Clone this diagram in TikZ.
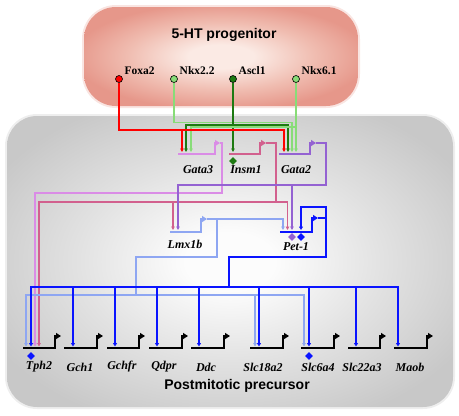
\documentclass[tikz,border=0pt]{standalone}
\usepackage{fontspec}
\setmainfont{Liberation Serif}
\newfontfamily\titlefont{Liberation Sans}
\usetikzlibrary{arrows.meta,shapes.geometric}
\definecolor{cfoxa}{HTML}{FF0000}
\definecolor{cnkx}{HTML}{88DC78}
\definecolor{cascl}{HTML}{1E7A12}
\definecolor{cgatab}{HTML}{DA8CE6}
\definecolor{cinsm}{HTML}{D2608E}
\definecolor{cgatac}{HTML}{9462D2}
\definecolor{clmx}{HTML}{8EA6F2}
\definecolor{cpet}{HTML}{0A14FF}
\definecolor{cpinkin}{HTML}{FBEAE4}
\definecolor{cpinkmid}{HTML}{F0BDB1}
\definecolor{cpinkout}{HTML}{E6978A}
\definecolor{cgrayin}{HTML}{FCFCFC}
\definecolor{cgraymid}{HTML}{E2E2E2}
\definecolor{cgrayout}{HTML}{C8C8C8}
\pgfdeclareradialshading{pinkglow}{\pgfpoint{0bp}{0bp}}{color(0bp)=(cpinkin); color(6bp)=(cpinkin); color(17bp)=(cpinkmid); color(27bp)=(cpinkout); color(50bp)=(cpinkout)}
\pgfdeclareradialshading{grayglow}{\pgfpoint{0bp}{0bp}}{color(0bp)=(cgrayin); color(5bp)=(cgrayin); color(17bp)=(cgraymid); color(30bp)=(cgrayout); color(50bp)=(cgrayout)}

\begin{document}
\begin{tikzpicture}[x=1pt,y=-1pt,
  tf/.style={circle,draw=black,line width=0.6pt,inner sep=0pt,minimum size=7pt},
  tflab/.style={font=\bfseries\fontsize{11.5}{13}\selectfont,inner sep=0pt,anchor=base west},
  gname/.style={font=\bfseries\itshape\fontsize{12}{13}\selectfont,inner sep=0pt},
  title/.style={font=\titlefont\bfseries\fontsize{14}{16}\selectfont,inner sep=0pt},
  gene/.style={line width=2.6pt,-{Triangle[length=5pt,width=6pt]}},
  tgene/.style={line width=2pt,-{Triangle[length=5pt,width=6pt]}},
  reg/.style={line width=1.3pt,-{Triangle[length=3.5pt,width=3.5pt]}},
  breg/.style={line width=2pt,-{Triangle[length=3.5pt,width=4pt]}},
  dia/.style={diamond,inner sep=0pt,minimum size=8pt}]
\useasboundingbox (0,0) rectangle (459,416);

\fill[cpinkout,opacity=0.25,rounded corners=34pt] (82,5) rectangle (360,108);
\shade[shading=pinkglow,rounded corners=32pt] (84,7) rectangle (358,106);
\fill[cgrayout,opacity=0.3,rounded corners=32pt] (5,114) rectangle (455,409);
\shade[shading=grayglow,rounded corners=30pt] (7,116) rectangle (453,407);

\node[title] at (224,35) (prog) {5-HT progenitor};
\node[title] at (237,386) (post) {Postmitotic precursor};

\node[tf,fill=cfoxa] at (119,79) (foxa2) {};
\node[tf,fill=cnkx] at (174,79) (nkx22) {};
\node[tf,fill=cascl] at (233,79) (ascl1) {};
\node[tf,fill=cnkx] at (296,79) (nkx61) {};
\node[tflab] at (124.5,74.5) (foxa2l) {Foxa2};
\node[tflab] at (179.5,74.5) (nkx22l) {Nkx2.2};
\node[tflab] at (238.5,74.5) (ascl1l) {Ascl1};
\node[tflab] at (301.5,74.5) (nkx61l) {Nkx6.1};

\coordinate (gata3r) at (182,152);
\coordinate (gata3g) at (186,152);
\coordinate (gata3n) at (191,152);
\coordinate (insm1g) at (233,152);
\coordinate (gata2r) at (284,152);
\coordinate (gata2g) at (288,152);
\coordinate (gata2n) at (292,152);
\coordinate (gata2m) at (296,152);
\coordinate (gata3o) at (220,143);
\coordinate (insm1o) at (266,143);
\coordinate (gata2o) at (316,143);
\coordinate (lmx1bi) at (173,230);
\coordinate (lmx1bg) at (178,230);
\coordinate (lmx1bo) at (207,219);
\coordinate (pet1l) at (283,230);
\coordinate (pet1i) at (287.5,230);
\coordinate (pet1g) at (292,230);
\coordinate (pet1p) at (301,230);
\coordinate (pet1o) at (318,218);
\coordinate (tph2a) at (26,346.5);
\coordinate (tph2b) at (31,346.5);
\coordinate (tph2c) at (35,346.5);
\coordinate (tph2d) at (39,346.5);
\coordinate (gch1b) at (73,346.5);
\coordinate (gchfrb) at (115,346.5);
\coordinate (qdprb) at (157,346.5);
\coordinate (ddcb) at (199,346.5);
\coordinate (slc18a2a) at (255,346.5);
\coordinate (slc18a2b) at (259,346.5);
\coordinate (slc6a4a) at (304,346.5);
\coordinate (slc6a4b) at (309,346.5);
\coordinate (slc22a3b) at (356,346.5);
\coordinate (maobb) at (398,346.5);

\draw[reg,cnkx] (nkx22) |- (230,122.7) -| (gata2n);
\draw[reg,cascl] (ascl1) |- (210,125) -| (gata3g);
\draw[reg,cascl] (ascl1) |- (260,125) -| (gata2g);
\draw[reg,cascl] (ascl1) -- (insm1g);
\draw[reg,cnkx] (nkx61) |- (240,127) -| (gata3n);
\draw[reg,cnkx] (nkx61) -- (gata2m);
\draw[reg,cfoxa] (foxa2) |- (150,130) -| (gata3r);
\draw[reg,cfoxa] (foxa2) |- (150,130) -| (gata2r);

\draw[reg,cgatab] (gata3o) -| (222,193) -| (tph2c);
\draw[reg,cinsm] (insm1o) -| (276,202) -| (tph2d);
\draw[reg,cinsm] (insm1o) -| (276,202) -| (lmx1bi);
\draw[reg,cinsm] (insm1o) -| (276,202) -| (pet1i);
\draw[reg,cgatac] (gata2o) -| (326,185) -| (lmx1bg);
\draw[reg,cgatac] (gata2o) -| (326,185) -| (pet1g);

\draw[reg,clmx] (lmx1bo) -| (pet1l);
\draw[reg,clmx] (lmx1bo) -| (217,257) -| (136,295) -| (tph2a);
\draw[reg,clmx] (lmx1bo) -| (217,257) -| (136,295) -| (slc18a2a);
\draw[reg,clmx] (lmx1bo) -| (217,257) -| (136,295) -| (slc6a4a);

\draw[breg,cpet] (pet1o) -| (326,207) -| (pet1p);
\draw[breg,cpet] (pet1o) -| (326,257) -| (229,287) -| (tph2b);
\draw[breg,cpet] (pet1o) -| (326,257) -| (229,287) -| (gch1b);
\draw[breg,cpet] (pet1o) -| (326,257) -| (229,287) -| (gchfrb);
\draw[breg,cpet] (pet1o) -| (326,257) -| (229,287) -| (qdprb);
\draw[breg,cpet] (pet1o) -| (326,257) -| (229,287) -| (ddcb);
\draw[breg,cpet] (pet1o) -| (326,257) -| (229,287) -| (slc18a2b);
\draw[breg,cpet] (pet1o) -| (326,257) -| (229,287) -| (slc6a4b);
\draw[breg,cpet] (pet1o) -| (326,257) -| (229,287) -| (slc22a3b);
\draw[breg,cpet] (pet1o) -| (326,257) -| (229,287) -| (maobb);

\draw[tgene,cgatab] (178,154) -- (215,154) -- (215,143) -- (gata3o);
\draw[tgene,cinsm] (229,154) -- (260,154) -- (260,143) -- (insm1o);
\draw[tgene,cgatac] (279,154) -- (310,154) -- (310,143) -- (gata2o);
\draw[tgene,clmx] (170,232) -- (201,232) -- (201,219) -- (lmx1bo);
\draw[tgene,cpet] (280,232) -- (312,232) -- (312,218) -- (pet1o);

\draw[gene] (23,348) -- (55,348) -- (55,336) -- (61,336);
\draw[gene] (64,348) -- (97,348) -- (97,336) -- (103,336);
\draw[gene] (107,348) -- (139,348) -- (139,336) -- (145,336);
\draw[gene] (149,348) -- (182,348) -- (182,336) -- (188,336);
\draw[gene] (191,348) -- (224,348) -- (224,336) -- (230,336);
\draw[gene] (250,348) -- (283,348) -- (283,336) -- (289,336);
\draw[gene] (301,348) -- (334,348) -- (334,336) -- (340,336);
\draw[gene] (348,348) -- (380,348) -- (380,336) -- (386,336);
\draw[gene] (394,348) -- (427,348) -- (427,336) -- (433,336);

\node[dia,fill=cascl] at (233,161) (insm1d) {};
\node[dia,fill=cgatac] at (292,237) (pet1da) {};
\node[dia,fill=cpet] at (301,237) (pet1db) {};
\node[dia,fill=cpet] at (31,356) (tph2m) {};
\node[dia,fill=cpet] at (309,356) (slc6a4m) {};

\node[gname] at (198,170) (gata3) {Gata3};
\node[gname] at (246,170) (insm1) {Insm1};
\node[gname] at (296,170) (gata2) {Gata2};
\node[gname] at (185,244) (lmx1b) {Lmx1b};
\node[gname] at (296,247) (pet1) {Pet-1};
\node[gname] at (39,367) (tph2) {Tph2};
\node[gname] at (80,367) (gch1) {Gch1};
\node[gname] at (122,367) (gchfr) {Gchfr};
\node[gname] at (164,367) (qdpr) {Qdpr};
\node[gname] at (206,367) (ddc) {Ddc};
\node[gname] at (263,367) (slc18a2) {Slc18a2};
\node[gname] at (318,367) (slc6a4) {Slc6a4};
\node[gname] at (362,367) (slc22a3) {Slc22a3};
\node[gname] at (410,367) (maob) {Maob};
\end{tikzpicture}
\end{document}
